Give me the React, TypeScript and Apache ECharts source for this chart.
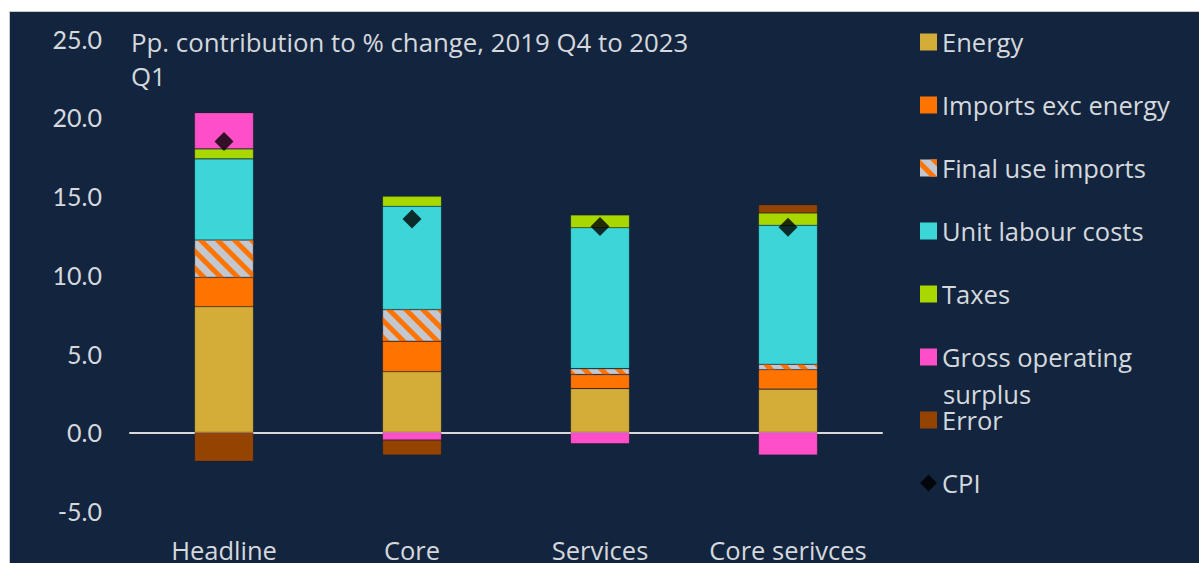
import React, { useEffect, useRef } from "react";
import * as echarts from "echarts";

const categories = ["Headline", "Core", "Services", "Core serivces"];
const energy = [7.97, 3.84, 2.77, 2.74];
const importsExcEnergy = [1.86, 1.94, 0.89, 1.23];
const finalUseImports = [2.38, 2.01, 0.38, 0.35];
const unitLabourCosts = [5.15, 6.56, 8.94, 8.82];
const taxes = [0.63, 0.63, 0.82, 0.78];
const grossOperatingSurplus = [2.3, -0.49, -0.74, -1.44];
const errorTerm = [-1.84, -0.95, 0, 0.53];
const cpi = [18.46, 13.54, 13.06, 13.02];
const yTicks = { min: -5, max: 25, interval: 5 };

const FONT = "Open Sans";
const TXT = "#d5d8dd";
const BG = "#13253e";

export default function App() {
  const ref = useRef<HTMLDivElement>(null);
  useEffect(() => {
    if (!ref.current) return;
    const chart = echarts.init(ref.current, undefined, { renderer: "svg" });
    const barBorder = { borderColor: "rgba(0,0,0,0.25)", borderWidth: 0.6 };
    const mk = (name: string, data: number[], color: string, extra: any = {}) => ({
      name,
      type: "bar",
      stack: "total",
      data,
      barWidth: 59,
      itemStyle: { color, ...barBorder, ...extra },
    });
    const names = [
      "Energy",
      "Imports exc energy",
      "Final use imports",
      "Unit labour costs",
      "Taxes",
      "Gross operating surplus",
      "Error",
      "CPI",
    ];
    const legends = names.map((n, i) => ({
      data: [n],
      left: 910,
      top: 30 + i * 63 - 15,
      orient: "vertical",
      padding: 0,
      itemWidth: 17,
      itemHeight: 17,
      itemGap: 0,
      icon: n === "CPI" ? "diamond" : "rect",
      formatter: n === "Gross operating surplus" ? "Gross operating" : undefined,
      textStyle: {
        color: TXT,
        fontFamily: FONT,
        fontSize: 25.5,
        lineHeight: 30,
      },
      itemStyle: { borderWidth: 0 },
      selectedMode: false,
    }));
    chart.setOption({
      animation: false,
      backgroundColor: BG,
      title: {
        text: "Pp. contribution to % change, 2019 Q4 to 2023\nQ1",
        left: 121,
        top: 13,
        padding: 0,
        textStyle: {
          color: TXT,
          fontFamily: FONT,
          fontWeight: "normal",
          fontSize: 25.8,
          lineHeight: 34,
        },
      },
      legend: legends,
      graphic: [
        {
          type: "text",
          left: 933,
          top: 369,
          style: {
            text: "surplus",
            fill: TXT,
            font: `25.5px "${FONT}"`,
            lineHeight: 24,
          },
        },
      ],
      grid: { left: 120, top: 26.5, width: 752, height: 474 },
      xAxis: [
        {
          type: "category",
          data: categories,
          position: "bottom",
          axisLine: { show: false, onZero: false },
          axisTick: { show: false },
          axisLabel: {
            color: TXT,
            fontFamily: FONT,
            fontSize: 25.5,
            margin: 26,
            interval: 0,
            hideOverlap: false,
          },
        },
        {
          type: "category",
          data: categories,
          position: "bottom",
          axisLine: { show: true, onZero: true, lineStyle: { color: "#d9d9d9", width: 2 } },
          axisTick: { show: false },
          axisLabel: { show: false },
        },
      ],
      yAxis: {
        type: "value",
        ...yTicks,
        axisLine: { show: false },
        axisTick: { show: false },
        splitLine: { show: false },
        axisLabel: {
          color: TXT,
          fontFamily: "Lato",
          fontSize: 25,
          margin: 28,
          formatter: (v: number) => v.toFixed(1),
        },
      },
      series: [
        mk("Energy", energy, "#d4ad38"),
        mk("Imports exc energy", importsExcEnergy, "#ff7300"),
        mk("Final use imports", finalUseImports, "#c3c7cf", {
          decal: {
            symbol: "rect",
            color: "#ff7300",
            dashArrayX: [1, 0],
            dashArrayY: [5, 7],
            rotation: Math.PI / 4,
          },
        }),
        mk("Unit labour costs", unitLabourCosts, "#3dd6d8"),
        mk("Taxes", taxes, "#a8d800"),
        mk("Gross operating surplus", grossOperatingSurplus, "#ff4fc8"),
        mk("Error", errorTerm, "#954300"),
        {
          name: "CPI",
          type: "scatter",
          data: cpi,
          symbol: "diamond",
          symbolSize: 19,
          itemStyle: { color: "#000000" },
          z: 5,
        },
      ],
    });
    return () => chart.dispose();
  }, []);
  return (
    <div
      style={{
        position: "fixed",
        left: 9,
        top: 11,
        width: 1190,
        height: 552,
        borderLeft: "1px solid #c8c8c8",
        borderTop: "1px solid #c8c8c8",
        boxSizing: "border-box",
      }}
    >
      <div ref={ref} style={{ width: 1189, height: 551 }} />
    </div>
  );
}
